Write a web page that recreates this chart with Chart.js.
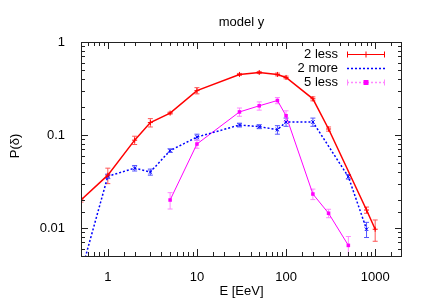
<!DOCTYPE html>
<html>
<head>
<meta charset="utf-8">
<script src="https://cdn.jsdelivr.net/npm/chart.js@4.4.0/dist/chart.umd.min.js"></script>
<style>
  html, body { margin: 0; padding: 0; background: #fff; }
  #wrap { width: 427px; height: 299px; }
</style>
</head>
<body>
<div id="wrap"><canvas id="chart" width="427" height="299"></canvas></div>
<script>
// values
const lessTwoE = [0.5, 1, 2, 3, 5, 10, 30, 50, 80, 100, 200, 300, 800, 1000]
const lessTwoP = [0.020, 0.037, 0.088, 0.136, 0.172, 0.30, 0.448, 0.47, 0.448, 0.416, 0.245, 0.116, 0.0156, 0.0097]
const lessTwoErr = [0.001, 0.007, 0.009, 0.014, 0.004, 0.023, 0.011, 0.012, 0.015, 0.014, 0.012, 0.006, 0.0012, 0.0025]

const moreTwoE = [0.5, 1, 2, 3, 5, 10, 30, 50, 80, 100, 200, 500, 800]
const moreTwoP = [0.0033, 0.036, 0.044, 0.040, 0.068, 0.095, 0.128, 0.123, 0.114, 0.138, 0.138, 0.0356, 0.0097]
const moreTwoErr = [0.0002, 0.002, 0.003, 0.003, 0.003, 0.007, 0.006, 0.006, 0.012, 0.014, 0.014, 0.002, 0.0018]

const lessFiveE = [5, 10, 30, 50, 80, 100, 200, 300, 500]
const lessFiveP = [0.020, 0.080, 0.177, 0.206, 0.235, 0.161, 0.0232, 0.0144, 0.0065]
const lessFiveErr = [0.004, 0.008, 0.018, 0.021, 0.018, 0.021, 0.003, 0.0015, 0.0016]

const seriesNames = ['2 less', '2 more', '5 less']
const xLabels = [1, 10, 100, 1000]
const yLabels = [0.01, 0.1, 1]

const FONT = 'Liberation Sans, Arial, sans-serif'
const toPoints = (xs, ys, es) => xs.map((x, i) => ({ x, y: ys[i], err: es[i] }))
const isDecade = (v) => Math.abs(Math.log10(v) - Math.round(Math.log10(v))) < 1e-6

const errorBars = {
  id: 'errorBars',
  beforeDatasetsDraw(chart) {
    const { ctx, chartArea, scales: { x, y } } = chart
    ctx.save()
    ctx.beginPath()
    ctx.rect(chartArea.left, chartArea.top, chartArea.right - chartArea.left, chartArea.bottom - chartArea.top)
    ctx.clip()
    chart.data.datasets.forEach((ds) => {
      ctx.strokeStyle = ds.errColor
      ctx.lineWidth = 1
      ds.data.forEach((p) => {
        const px = x.getPixelForValue(p.x)
        const top = y.getPixelForValue(p.y + p.err)
        const bot = y.getPixelForValue(Math.max(p.y - p.err, 1e-6))
        ctx.beginPath()
        ctx.moveTo(px, top); ctx.lineTo(px, bot)
        ctx.moveTo(px - 2.5, top); ctx.lineTo(px + 2.5, top)
        ctx.moveTo(px - 2.5, bot); ctx.lineTo(px + 2.5, bot)
        ctx.stroke()
      })
    })
    ctx.restore()
  },
}

const frame = {
  id: 'frame',
  afterDraw(chart) {
    const { ctx, chartArea: a, scales: { x, y } } = chart
    ctx.save()
    ctx.strokeStyle = '#222'
    ctx.lineWidth = 1
    ctx.strokeRect(a.left + 0.5, a.top + 0.5, a.right - a.left - 1, a.bottom - a.top)
    ctx.beginPath()
    x.ticks.forEach((t) => {
      if (t.value <= x.min || t.value >= x.max) return
      const px = Math.round(x.getPixelForValue(t.value)) + 0.5
      const len = isDecade(t.value) ? 7 : 4
      ctx.moveTo(px, a.bottom); ctx.lineTo(px, a.bottom - len)
      ctx.moveTo(px, a.top); ctx.lineTo(px, a.top + len)
    })
    y.ticks.forEach((t) => {
      if (t.value <= y.min || t.value >= y.max) return
      const py = Math.round(y.getPixelForValue(t.value)) + 0.5
      const len = isDecade(t.value) ? 7 : 4
      ctx.moveTo(a.left, py); ctx.lineTo(a.left + len, py)
      ctx.moveTo(a.right, py); ctx.lineTo(a.right - len, py)
    })
    ctx.stroke()

    // title and axis titles
    ctx.fillStyle = '#000'
    ctx.font = '13px ' + FONT
    ctx.textAlign = 'center'
    ctx.textBaseline = 'middle'
    ctx.fillText('model y', (a.left + a.right) / 2, 22)
    ctx.fillText('E [EeV]', (a.left + a.right) / 2, 291)
    ctx.save()
    ctx.translate(15, 146)
    ctx.rotate(-Math.PI / 2)
    ctx.fillText('P(δ)', 0, 0)
    ctx.restore()

    // key
    const rows = [54, 68, 82]
    const x0 = 347
    const x1 = 385
    const xm = (x0 + x1) / 2
    ctx.textAlign = 'right'
    chart.data.datasets.forEach((ds, i) => {
      const ry = rows[i] + 0.5
      ctx.fillStyle = '#000'
      ctx.fillText(seriesNames[i], 338, rows[i])
      ctx.strokeStyle = i === 2 ? ds.errColor : ds.borderColor
      ctx.lineWidth = i === 0 ? 1 : 1.5
      ctx.setLineDash(i === 0 ? [] : [2, 2])
      ctx.beginPath()
      ctx.moveTo(x0, ry); ctx.lineTo(x1, ry)
      ctx.stroke()
      ctx.setLineDash([])
      if (i !== 1) {
        ctx.lineWidth = 1
        ctx.beginPath()
        ctx.moveTo(x0 + 0.5, ry - 3); ctx.lineTo(x0 + 0.5, ry + 3)
        ctx.moveTo(x1 - 0.5, ry - 3); ctx.lineTo(x1 - 0.5, ry + 3)
        ctx.stroke()
      }
      if (i === 0) {
        ctx.strokeStyle = ds.borderColor
        ctx.beginPath()
        ctx.moveTo(xm, ry - 3); ctx.lineTo(xm, ry + 3)
        ctx.stroke()
      }
      if (i === 2) {
        ctx.fillStyle = ds.borderColor
        ctx.fillRect(xm - 2.5, ry - 2.5, 5, 5)
      }
    })
    ctx.restore()
  },
}

new Chart(document.getElementById('chart'), {
  type: 'line',
  data: {
    datasets: [
      {
        label: seriesNames[0],
        data: toPoints(lessTwoE, lessTwoP, lessTwoErr),
        borderColor: '#ff0000',
        backgroundColor: '#ff0000',
        errColor: '#ff5555',
        borderWidth: 1.5,
        pointStyle: 'cross',
        pointRadius: 2.5,
        pointBorderWidth: 1,
      },
      {
        label: seriesNames[1],
        data: toPoints(moreTwoE, moreTwoP, moreTwoErr),
        borderColor: '#0000ff',
        backgroundColor: '#0000ff',
        errColor: '#5555ff',
        borderWidth: 1.5,
        borderDash: [2, 2],
        pointStyle: 'crossRot',
        pointRadius: 2.5,
        pointBorderWidth: 1,
      },
      {
        label: seriesNames[2],
        data: toPoints(lessFiveE, lessFiveP, lessFiveErr),
        borderColor: '#ff00ff',
        backgroundColor: '#ff00ff',
        errColor: '#ff88ff',
        borderWidth: 1,
        pointStyle: 'rect',
        pointRadius: 2.5,
        pointBorderWidth: 0,
      },
    ],
  },
  options: {
    responsive: false,
    animation: false,
    events: [],
    layout: { padding: { top: 42, right: 25, left: 0, bottom: 0 } },
    plugins: { legend: { display: false }, tooltip: { enabled: false }, title: { display: false } },
    scales: {
      x: {
        type: 'logarithmic',
        min: 0.5,
        max: 2000,
        grid: { display: false },
        border: { display: false },
        afterFit: (s) => { s.height = 43 },
        ticks: {
          autoSkip: false,
          maxRotation: 0,
          padding: 6,
          color: '#000',
          font: { family: FONT, size: 13 },
          callback: (v) => (isDecade(v) && xLabels.includes(10 ** Math.round(Math.log10(v))) ? String(10 ** Math.round(Math.log10(v))) : ''),
        },
      },
      y: {
        type: 'logarithmic',
        min: 0.005,
        max: 1,
        grid: { display: false },
        border: { display: false },
        afterFit: (s) => { s.width = 81 },
        ticks: {
          autoSkip: false,
          padding: 8,
          color: '#000',
          font: { family: FONT, size: 13 },
          callback: (v) => (isDecade(v) && yLabels.includes(10 ** Math.round(Math.log10(v))) ? String(10 ** Math.round(Math.log10(v))) : ''),
        },
      },
    },
  },
  plugins: [errorBars, frame],
})
</script>
</body>
</html>
